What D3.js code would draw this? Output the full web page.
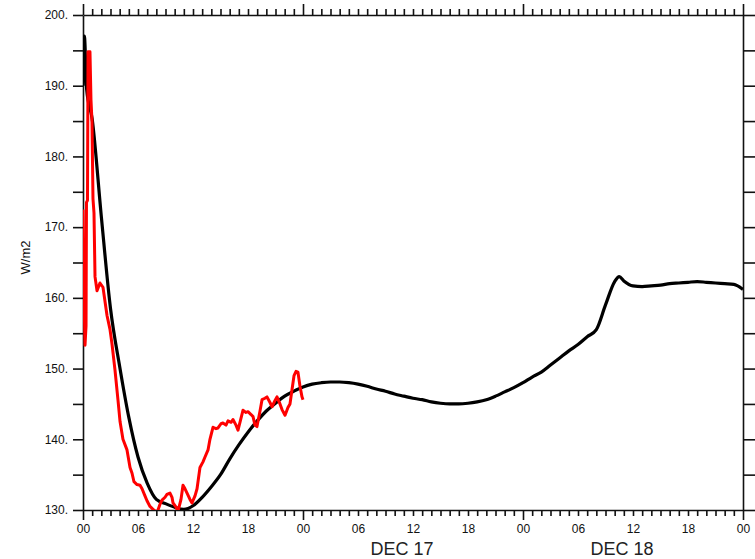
<!DOCTYPE html>
<html>
<head>
<meta charset="utf-8">
<script src="https://cdn.jsdelivr.net/npm/d3@7"></script>
<style>
  body { margin: 0; background: #fff; }
  .axis text { font-family: "Liberation Sans", Arial, sans-serif; font-size: 12px; fill: #111; }
  .axis path, .axis line { stroke: #111; stroke-width: 1.6; }
</style>
</head>
<body>
<div id="chart"></div>
<script>
// model (black) - hours since 00 DEC 16
const modelHours = [0, 0.15, 0.4, 1, 2, 3, 4, 5, 6, 7, 8, 9, 10, 11, 12, 13, 14, 15, 16, 17, 18, 19, 20,
  21, 22, 23, 24, 25, 26, 27, 28, 29, 30, 31, 32, 33, 34, 35, 36, 37, 38, 39, 40, 41, 42, 43, 44, 45,
  46, 47, 48, 49, 50, 51, 52, 53, 54, 55, 56, 57, 58, 58.5, 59, 60, 61, 62, 63, 64, 65, 66, 67, 68,
  69, 70, 71, 72];
const modelValues = [190, 197, 189.5, 185.3, 171.5, 158.5, 150.3, 143.1, 137.5, 133.8, 131.5, 130.9,
  130.4, 130.1, 130.6, 131.8, 133.3, 135.0, 137.2, 139.2, 141.0, 142.6, 144.0, 145.1, 146.1, 146.8,
  147.4, 147.8, 148.0, 148.1, 148.1, 148.0, 147.8, 147.5, 147.1, 146.8, 146.4, 146.1, 145.8, 145.6,
  145.3, 145.1, 145.0, 145.0, 145.1, 145.3, 145.6, 146.1, 146.7, 147.3, 148.0, 148.8, 149.5, 150.5,
  151.5, 152.5, 153.4, 154.5, 155.5, 159.0, 162.3, 163.0, 162.4, 161.7, 161.6, 161.7, 161.8, 162.0,
  162.1, 162.2, 162.3, 162.2, 162.1, 162.0, 161.9, 161.2];

// observations (red)
const obsHours = [0, 0.11, 0.22, 0.33, 0.38, 0.49, 0.55, 0.76, 0.87, 0.98, 1.09, 1.2, 1.31, 1.53, 1.85,
  2.18, 2.62, 2.95, 3.16, 3.49, 3.82, 4.04, 4.36, 4.8, 5.13, 5.35, 5.56, 5.89, 6.22, 6.44, 6.76, 6.98,
  7.31, 7.64, 8.07, 8.4, 8.62, 8.95, 9.16, 9.49, 9.71, 9.82, 10.15, 10.36, 10.69, 10.91, 11.13, 11.35,
  11.67, 11.89, 12.22, 12.44, 12.76, 13.09, 13.31, 13.64, 13.85, 14.18, 14.51, 14.73, 15.05, 15.27,
  15.6, 15.82, 16.15, 16.36, 16.69, 16.91, 17.24, 17.45, 17.78, 18, 18.33, 18.55, 18.76, 18.98, 19.31,
  19.53, 19.85, 20.07, 20.4, 20.62, 20.95, 21.16, 21.49, 21.71, 22.04, 22.36, 22.58, 22.8, 23.02,
  23.24, 23.45, 23.67, 23.89, 24];
const obsValues = [172.5, 160, 153.3, 156, 173.5, 173.8, 194.8, 194.8, 188, 185, 174, 172, 163, 161,
  162.1, 161.5, 157.5, 155.5, 153.5, 149.8, 145.5, 142.5, 140, 138.5, 136, 135.2, 134, 133.6, 133.5,
  133, 132, 131.3, 130.5, 130.1, 129.6, 130.8, 131.4, 131.8, 132.2, 132.4, 131.8, 131, 130.4, 129.8,
  131.5, 133.5, 133, 132.4, 131.5, 131, 132, 133, 136, 136.8, 137.5, 138.5, 140, 141.7, 141.5, 141.6,
  142.2, 142.3, 142, 142.6, 142.4, 142.8, 142, 141.3, 143, 144.1, 143.8, 143.9, 143.5, 143.2, 142,
  141.8, 144, 145.6, 145.8, 146, 145.2, 144.6, 145.5, 146, 145, 144.2, 143.4, 144.5, 145, 147, 149,
  149.6, 149.5, 147.5, 146, 145.6];

const hourLabels = ["00", "06", "12", "18"];
const dayLabels = ["DEC 17", "DEC 18"];
const dayStarts = [24, 48];
const yTicks = d3.range(130, 201, 5);

const W = 755, H = 559;
const margin = { top: 15, right: 12, bottom: 49, left: 83 };
const width = W - margin.left - margin.right;
const height = H - margin.top - margin.bottom;

const svg = d3.select("#chart").append("svg")
  .attr("width", W).attr("height", H);
const g = svg.append("g")
  .attr("transform", `translate(${margin.left},${margin.top})`);

const x = d3.scaleLinear().domain([0, 72]).range([0, width]);
const y = d3.scaleLinear().domain([130, 200]).range([height, 0]);

g.append("clipPath").attr("id", "clip")
  .append("rect").attr("width", width).attr("height", height);

const hourTicks = d3.range(0, 73, 1);

// bottom axis
const xb = g.append("g").attr("class", "axis")
  .attr("transform", `translate(0,${height})`)
  .call(d3.axisBottom(x).tickValues(hourTicks).tickSize(6).tickSizeOuter(0).tickPadding(8)
    .tickFormat(d => d % 6 === 0 ? hourLabels[(d % 24) / 6] : ""));
xb.selectAll(".tick line").attr("y2", d => d % 24 === 0 ? 10 : 6);
xb.selectAll(".tick text").attr("y", 14);

// top axis
const xt = g.append("g").attr("class", "axis")
  .call(d3.axisTop(x).tickValues(hourTicks).tickSize(6).tickSizeOuter(0).tickFormat(""));
xt.selectAll(".tick line").attr("y2", d => d % 24 === 0 ? -11 : -6);

// left axis
g.append("g").attr("class", "axis")
  .call(d3.axisLeft(y).tickValues(yTicks).tickSize(10).tickSizeOuter(0).tickPadding(5)
    .tickFormat(d => d % 10 === 0 ? d + "." : ""));

// right axis
g.append("g").attr("class", "axis")
  .attr("transform", `translate(${width},0)`)
  .call(d3.axisRight(y).tickValues(yTicks).tickSize(12).tickSizeOuter(0).tickFormat(""));

// date labels
g.selectAll(".day").data(dayLabels).enter().append("text")
  .attr("class", "day")
  .attr("x", (d, i) => x(dayStarts[i] + 10.8))
  .attr("y", height + 45)
  .attr("text-anchor", "middle")
  .style("font-family", "Liberation Sans, Arial, sans-serif")
  .style("font-size", "18px")
  .style("fill", "#222")
  .text(d => d);

// y label
g.append("text")
  .attr("transform", "rotate(-90)")
  .attr("x", -height / 2 + 5)
  .attr("y", -53)
  .attr("text-anchor", "middle")
  .style("font-family", "Liberation Sans, Arial, sans-serif")
  .style("font-size", "13px")
  .style("fill", "#111")
  .text("W/m2");

const line = d3.line()
  .x(d => x(d[0]))
  .y(d => y(d[1]));

const plot = g.append("g").attr("clip-path", "url(#clip)");

plot.append("path")
  .datum(modelHours.map((h, i) => [h, modelValues[i]]))
  .attr("fill", "none")
  .attr("stroke", "#000")
  .attr("stroke-width", 3.2)
  .attr("stroke-linejoin", "round")
  .attr("d", line.curve(d3.curveMonotoneX));

plot.append("path")
  .datum(obsHours.map((h, i) => [h, obsValues[i]]))
  .attr("fill", "none")
  .attr("stroke", "#ff0000")
  .attr("stroke-width", 3)
  .attr("stroke-linejoin", "round")
  .attr("d", line.curve(d3.curveLinear));
</script>
</body>
</html>
